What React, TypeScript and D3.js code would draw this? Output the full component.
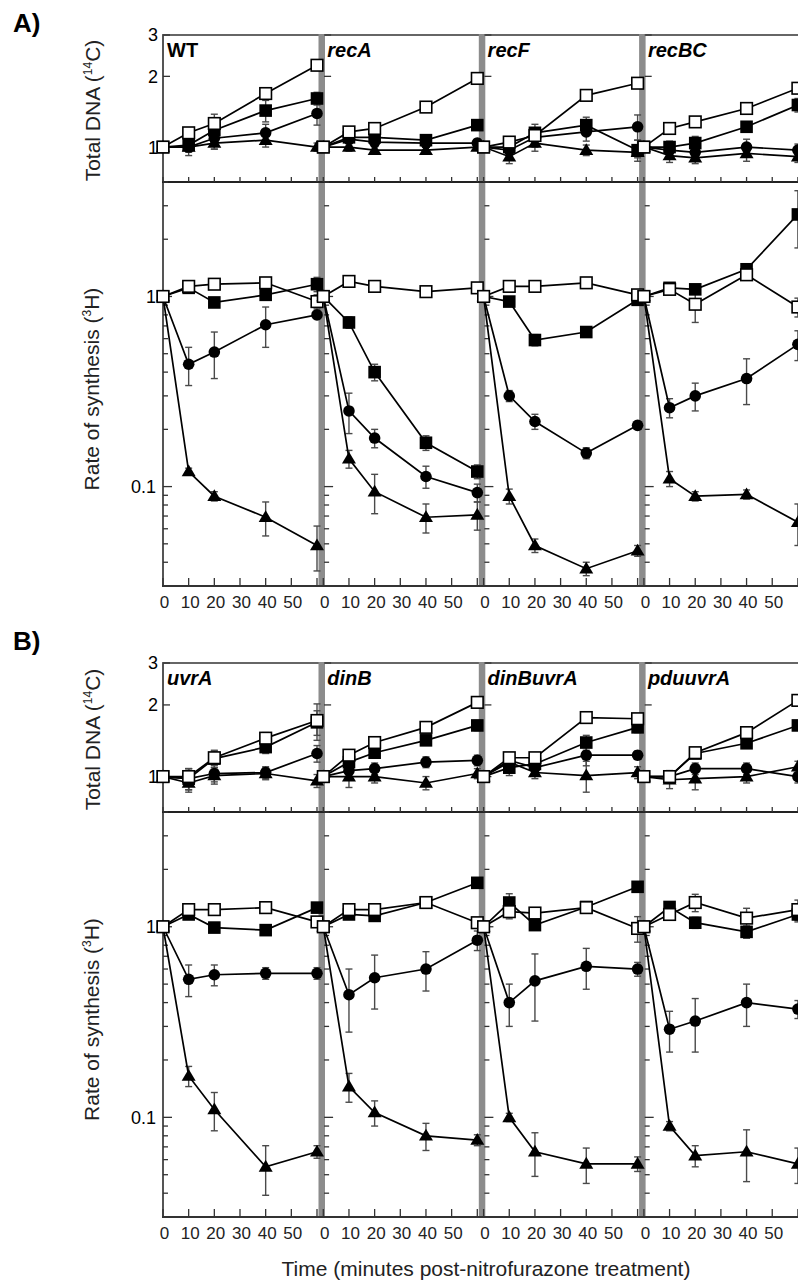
import React from "react";
import * as d3 from "d3";

// ---------- data ----------
const times = [0, 10, 20, 40, 60];
const tickTimes = [0, 10, 20, 30, 40, 50, 60];
const tickLabels = [0, 10, 20, 30, 40, 50];
const strainsA = ["WT", "recA", "recF", "recBC"];
const italicA = [false, true, true, true];
const strainsB = ["uvrA", "dinB", "dinBuvrA", "pduuvrA"];
const italicB = [true, true, true, true];
const topTicks = [1, 2, 3];
const bottomLabels = [0.1, 1];

// Panel A — Total DNA (14C)
const a14Open = [[1, 1.15, 1.26, 1.69, 2.23], [1, 1.16, 1.2, 1.48, 1.96], [1, 1.05, 1.12, 1.66, 1.87], [1, 1.2, 1.28, 1.46, 1.78]];
const a14Filled = [[1, 1.02, 1.18, 1.43, 1.61], [1, 1.1, 1.1, 1.07, 1.24], [1, 1.0, 1.15, 1.24, 0.97], [1, 1.0, 1.04, 1.22, 1.51]];
const a14Circle = [[1, 1.0, 1.09, 1.15, 1.39], [1, 1.08, 1.05, 1.04, 1.04], [1, 0.97, 1.1, 1.16, 1.22], [1, 0.97, 0.95, 1.0, 0.97]];
const a14Tri = [[1, 1.0, 1.04, 1.07, 1.0], [1, 1.0, 0.97, 0.97, 1.0], [1, 0.91, 1.04, 0.97, 0.95], [1, 0.92, 0.9, 0.94, 0.91]];
const a14OpenErr = [[0, 0.04, 0.04, 0.08, 0.04], [0, 0.03, 0.03, 0.03, 0.05], [0, 0.04, 0.04, 0.05, 0.05], [0, 0.04, 0.05, 0.05, 0.06]];
const a14FilledErr = [[0, 0.03, 0.2, 0.15, 0.1], [0, 0.05, 0.05, 0.04, 0.04], [0, 0.09, 0.1, 0.1, 0.1], [0, 0.06, 0.07, 0.05, 0.1]];
const a14CircleErr = [[0, 0.08, 0.08, 0.1, 0.15], [0, 0.06, 0.04, 0.04, 0.04], [0, 0.08, 0.1, 0.1, 0.15], [0, 0.06, 0.06, 0.08, 0.06]];
const a14TriErr = [[0, 0.05, 0.06, 0.07, 0.04], [0, 0.04, 0.03, 0.03, 0.03], [0, 0.06, 0.08, 0.05, 0.05], [0, 0.06, 0.05, 0.07, 0.05]];

// Panel A — Rate of synthesis (3H)
const a3Open = [[1, 1.13, 1.16, 1.18, 0.94], [1, 1.2, 1.13, 1.06, 1.11], [1, 1.13, 1.13, 1.18, 1.02], [1, 1.09, 0.91, 1.3, 0.88]];
const a3Filled = [[1, 1.11, 0.93, 1.02, 1.16], [1, 0.73, 0.4, 0.17, 0.12], [1, 0.94, 0.59, 0.65, 0.96], [1, 1.11, 1.09, 1.39, 2.7]];
const a3Circle = [[1, 0.44, 0.51, 0.71, 0.8], [1, 0.25, 0.18, 0.113, 0.093], [1, 0.3, 0.22, 0.15, 0.21], [1, 0.26, 0.3, 0.37, 0.56]];
const a3Tri = [[1, 0.12, 0.089, 0.069, 0.049], [1, 0.14, 0.094, 0.069, 0.071], [1, 0.089, 0.049, 0.037, 0.046], [1, 0.11, 0.089, 0.091, 0.065]];
const a3OpenErr = [[0, 0.05, 0.05, 0.05, 0.08], [0, 0.08, 0.03, 0.03, 0.03], [0, 0.05, 0.05, 0.05, 0.05], [0, 0.05, 0.18, 0.05, 0.1]];
const a3FilledErr = [[0, 0.04, 0.04, 0.06, 0.1], [0, 0.05, 0.04, 0.015, 0.01], [0, 0.05, 0.04, 0.04, 0.05], [0, 0.05, 0.05, 0.08, 0.9]];
const a3CircleErr = [[0, 0.1, 0.14, 0.17, 0.03], [0, 0.06, 0.02, 0.015, 0.01], [0, 0.02, 0.02, 0.01, 0.01], [0, 0.03, 0.05, 0.1, 0.1]];
const a3TriErr = [[0, 0.005, 0.005, 0.014, 0.013], [0, 0.015, 0.022, 0.012, 0.012], [0, 0.008, 0.004, 0.003, 0.003], [0, 0.01, 0.005, 0.005, 0.016]];

// Panel B — Total DNA (14C)
const b14Open = [[1, 1.0, 1.2, 1.45, 1.72], [1, 1.23, 1.39, 1.61, 2.05], [1, 1.2, 1.2, 1.77, 1.75], [1, 1.0, 1.26, 1.53, 2.09]];
const b14Filled = [[1, 0.98, 1.19, 1.33, 1.69], [1, 1.15, 1.26, 1.42, 1.64], [1, 1.09, 1.13, 1.39, 1.61], [1, 1.0, 1.25, 1.38, 1.64]];
const b14Circle = [[1, 0.98, 1.03, 1.04, 1.25], [1, 1.06, 1.08, 1.15, 1.17], [1, 1.17, 1.09, 1.23, 1.23], [1, 1.0, 1.08, 1.08, 1.0]];
const b14Tri = [[1, 0.94, 1.01, 1.03, 0.96], [1, 1.0, 1.0, 0.94, 1.03], [1, 1.15, 1.04, 1.01, 1.04], [1, 0.97, 0.98, 1.0, 1.1]];
const b14OpenErr = [[0, 0.08, 0.08, 0.08, 0.3], [0, 0.05, 0.05, 0.05, 0.05], [0, 0.05, 0.05, 0.05, 0.05], [0, 0.05, 0.05, 0.05, 0.05]];
const b14FilledErr = [[0, 0.1, 0.1, 0.08, 0.2], [0, 0.06, 0.05, 0.05, 0.08], [0, 0.08, 0.07, 0.1, 0.08], [0, 0.05, 0.05, 0.05, 0.07]];
const b14CircleErr = [[0, 0.1, 0.08, 0.06, 0.1], [0, 0.08, 0.06, 0.06, 0.06], [0, 0.05, 0.06, 0.12, 0.05], [0, 0.06, 0.06, 0.06, 0.06]];
const b14TriErr = [[0, 0.08, 0.08, 0.06, 0.06], [0, 0.1, 0.06, 0.06, 0.05], [0, 0.06, 0.06, 0.15, 0.06], [0, 0.08, 0.1, 0.06, 0.06]];

// Panel B — Rate of synthesis (3H)
const b3Open = [[1, 1.23, 1.23, 1.26, 1.06], [1, 1.23, 1.23, 1.34, 1.05], [1, 1.2, 1.18, 1.26, 0.98], [1, 1.16, 1.34, 1.11, 1.23]];
const b3Filled = [[1, 1.16, 0.99, 0.96, 1.26], [1, 1.16, 1.14, 1.34, 1.7], [1, 1.34, 1.02, 1.27, 1.62], [1, 1.27, 1.05, 0.94, 1.16]];
const b3Circle = [[1, 0.53, 0.56, 0.57, 0.57], [1, 0.44, 0.54, 0.6, 0.85], [1, 0.4, 0.52, 0.62, 0.6], [1, 0.29, 0.32, 0.4, 0.37]];
const b3Tri = [[1, 0.165, 0.11, 0.055, 0.066], [1, 0.145, 0.106, 0.08, 0.076], [1, 0.1, 0.066, 0.057, 0.057], [1, 0.09, 0.063, 0.066, 0.057]];
const b3OpenErr = [[0, 0.05, 0.04, 0.04, 0.04], [0, 0.06, 0.06, 0.05, 0.05], [0, 0.1, 0.06, 0.08, 0.15], [0, 0.06, 0.14, 0.14, 0.15]];
const b3FilledErr = [[0, 0.05, 0.04, 0.04, 0.05], [0, 0.06, 0.05, 0.05, 0.05], [0, 0.15, 0.05, 0.06, 0.05], [0, 0.06, 0.07, 0.07, 0.1]];
const b3CircleErr = [[0, 0.1, 0.07, 0.04, 0.04], [0, 0.16, 0.17, 0.14, 0.1], [0, 0.1, 0.2, 0.15, 0.05], [0, 0.07, 0.1, 0.1, 0.04]];
const b3TriErr = [[0, 0.02, 0.025, 0.016, 0.005], [0, 0.025, 0.016, 0.013, 0.005], [0, 0.005, 0.017, 0.012, 0.005], [0, 0.005, 0.008, 0.02, 0.012]];

// ---------- layout ----------
const W = 798;
const H = 1282;
const panelLeft = 163;
const panelStep = 160.3;
const xSpan = 154;
const FONT = "'Liberation Sans', Arial, Helvetica, sans-serif";

type Shape = "open" | "filled" | "circle" | "tri";

function Marker({ shape, cx, cy }: { shape: Shape; cx: number; cy: number }) {
  const s = 5.8;
  if (shape === "open")
    return <rect x={cx - s} y={cy - s} width={2 * s} height={2 * s} fill="#fff" stroke="#000" strokeWidth={1.6} />;
  if (shape === "filled")
    return <rect x={cx - s - 0.5} y={cy - s - 0.5} width={2 * s + 1} height={2 * s + 1} fill="#000" />;
  if (shape === "circle") return <circle cx={cx} cy={cy} r={5.8} fill="#000" />;
  return <path d={`M${cx},${cy - 7} L${cx + 7},${cy + 4.8} L${cx - 7},${cy + 4.8} Z`} fill="#000" />;
}

interface SeriesDef {
  shape: Shape;
  vals: number[][];
  errs: number[][];
}

function Section({
  y0,
  y1,
  domain,
  series,
  kind,
}: {
  y0: number;
  y1: number;
  domain: [number, number];
  series: SeriesDef[];
  kind: "top" | "bottom";
}) {
  const y = d3.scaleLog().domain(domain).range([y1, y0]);
  const panels = [0, 1, 2, 3];
  const minorTicks = kind === "bottom" ? y.ticks() : topTicks;
  return (
    <g>
      {panels.map((p) => {
        const x0 = panelLeft + p * panelStep;
        const x = d3.scaleLinear().domain([0, 60]).range([x0, x0 + xSpan]);
        const off = p === 0 ? 1 : 1.8;
        return (
          <g key={p}>
            {minorTicks.map((t, i) => {
              const major = kind === "bottom" ? bottomLabels.includes(t) : true;
              const len = major ? (kind === "bottom" ? 8 : 6) : 4;
              return (
                <line key={i} x1={x0 + off - 1} x2={x0 + off + len} y1={y(t)} y2={y(t)} stroke="#333" strokeWidth={1.3} />
              );
            })}
            {series.map((s, si) =>
              times.map((t, i) => {
                const v = s.vals[p][i];
                const e = s.errs[p][i];
                if (!e) return null;
                const lo = Math.max(v - e, domain[0]);
                const hi = Math.min(v + e, domain[1]);
                const cx = x(t);
                return (
                  <g key={`${si}-${i}`} stroke="#4a4a4a" strokeWidth={1.4}>
                    <line x1={cx} x2={cx} y1={y(lo)} y2={y(hi)} />
                    {v - e > domain[0] && <line x1={cx - 3.5} x2={cx + 3.5} y1={y(lo)} y2={y(lo)} />}
                    {v + e < domain[1] && <line x1={cx - 3.5} x2={cx + 3.5} y1={y(hi)} y2={y(hi)} />}
                  </g>
                );
              })
            )}
            {series.map((s, si) => {
              const line = d3
                .line<number>()
                .x((_, i) => x(times[i]))
                .y((v) => y(v));
              return <path key={si} d={line(s.vals[p]) || ""} fill="none" stroke="#000" strokeWidth={1.7} />;
            })}
            {series.map((s, si) =>
              s.vals[p].map((v, i) => <Marker key={`${si}-${i}`} shape={s.shape} cx={x(times[i])} cy={y(v)} />)
            )}
          </g>
        );
      })}
    </g>
  );
}

function Block({
  top,
  mid,
  bottom,
  strains,
  italics,
  label,
  labelY,
  s14,
  s3,
}: {
  top: number;
  mid: number;
  bottom: number;
  strains: string[];
  italics: boolean[];
  label: string;
  labelY: number;
  s14: SeriesDef[];
  s3: SeriesDef[];
}) {
  const topDomain: [number, number] = [0.71, 3];
  const botDomain: [number, number] = [0.03, 4];
  const yTop = d3.scaleLog().domain(topDomain).range([mid, top]);
  const yBot = d3.scaleLog().domain(botDomain).range([bottom, mid]);
  const right = W;
  const panels = [0, 1, 2, 3];
  return (
    <g>
      <text x={13} y={labelY} fontFamily={FONT} fontWeight="bold" fontSize={26}>
        {label}
      </text>
      <text
        transform={`translate(100,${(top + mid) / 2 + 2}) rotate(-90)`}
        textAnchor="middle"
        fontFamily={FONT}
        fontSize={21}
        fill="#222"
      >
        Total DNA (<tspan fontSize={12} dy={-8}>14</tspan>
        <tspan dy={8}>C)</tspan>
      </text>
      <text
        transform={`translate(99,${(mid + bottom) / 2 + 5}) rotate(-90)`}
        textAnchor="middle"
        fontFamily={FONT}
        fontSize={21}
        fill="#222"
      >
        Rate of synthesis (<tspan fontSize={12} dy={-8}>3</tspan>
        <tspan dy={8}>H)</tspan>
      </text>
      {topTicks.map((t) => (
        <text key={t} x={158} y={yTop(t)} dy="0.36em" textAnchor="end" fontFamily={FONT} fontSize={18}>
          {t}
        </text>
      ))}
      {bottomLabels.map((t) => (
        <text key={t} x={156} y={yBot(t)} dy="0.36em" textAnchor="end" fontFamily={FONT} fontSize={18}>
          {t}
        </text>
      ))}
      <line x1={panelLeft - 1} x2={right} y1={top} y2={top} stroke="#666" strokeWidth={2} />
      <line x1={panelLeft} x2={panelLeft} y1={top} y2={bottom + 1} stroke="#555" strokeWidth={2} />
      {panels.slice(1).map((p) => {
        const x0 = panelLeft + p * panelStep;
        return <rect key={p} x={x0 - 4.8} y={top - 1} width={6.5} height={bottom - top + 2} fill="#8c8c8c" />;
      })}
      <line x1={panelLeft - 1} x2={right} y1={mid} y2={mid} stroke="#222" strokeWidth={2} />
      <line x1={panelLeft - 1} x2={right} y1={bottom} y2={bottom} stroke="#333" strokeWidth={2} />
      {panels.map((p) => {
        const x0 = panelLeft + p * panelStep;
        const x = d3.scaleLinear().domain([0, 60]).range([x0, x0 + xSpan]);
        return (
          <g key={p}>
            {tickTimes.map((t) => (
              <g key={t} stroke="#333" strokeWidth={1.3}>
                <line x1={x(t)} x2={x(t)} y1={mid} y2={mid - 5} />
                <line x1={x(t)} x2={x(t)} y1={bottom} y2={bottom - 8} />
              </g>
            ))}
            {tickLabels.map((t) => (
              <text key={t} x={x(t) + 1.5} y={bottom + 22} textAnchor="middle" fontFamily={FONT} fontSize={17} fill="#222">
                {t}
              </text>
            ))}
            <text
              x={x0 + 4}
              y={top + 22}
              fontFamily={FONT}
              fontWeight="bold"
              fontStyle={italics[p] ? "italic" : "normal"}
              fontSize={20}
            >
              {strains[p]}
            </text>
          </g>
        );
      })}
      <Section y0={top} y1={mid} domain={topDomain} series={s14} kind="top" />
      <Section y0={mid} y1={bottom} domain={botDomain} series={s3} kind="bottom" />
    </g>
  );
}

export default function App() {
  const sA14: SeriesDef[] = [
    { shape: "tri", vals: a14Tri, errs: a14TriErr },
    { shape: "circle", vals: a14Circle, errs: a14CircleErr },
    { shape: "filled", vals: a14Filled, errs: a14FilledErr },
    { shape: "open", vals: a14Open, errs: a14OpenErr },
  ];
  const sA3: SeriesDef[] = [
    { shape: "tri", vals: a3Tri, errs: a3TriErr },
    { shape: "circle", vals: a3Circle, errs: a3CircleErr },
    { shape: "filled", vals: a3Filled, errs: a3FilledErr },
    { shape: "open", vals: a3Open, errs: a3OpenErr },
  ];
  const sB14: SeriesDef[] = [
    { shape: "tri", vals: b14Tri, errs: b14TriErr },
    { shape: "circle", vals: b14Circle, errs: b14CircleErr },
    { shape: "filled", vals: b14Filled, errs: b14FilledErr },
    { shape: "open", vals: b14Open, errs: b14OpenErr },
  ];
  const sB3: SeriesDef[] = [
    { shape: "tri", vals: b3Tri, errs: b3TriErr },
    { shape: "circle", vals: b3Circle, errs: b3CircleErr },
    { shape: "filled", vals: b3Filled, errs: b3FilledErr },
    { shape: "open", vals: b3Open, errs: b3OpenErr },
  ];
  return (
    <svg
      width={W}
      height={H}
      viewBox={`0 0 ${W} ${H}`}
      style={{ position: "absolute", left: 0, top: 0, background: "#fff", display: "block" }}
    >
      <rect x={0} y={0} width={W} height={H} fill="#fff" />
      <Block top={35} mid={182} bottom={586} strains={strainsA} italics={italicA} label="A)" labelY={32} s14={sA14} s3={sA3} />
      <Block top={663} mid={812} bottom={1217} strains={strainsB} italics={italicB} label="B)" labelY={650} s14={sB14} s3={sB3} />
      <text x={486} y={1276} textAnchor="middle" fontFamily={FONT} fontSize={21} fill="#222">
        Time (minutes post-nitrofurazone treatment)
      </text>
    </svg>
  );
}
